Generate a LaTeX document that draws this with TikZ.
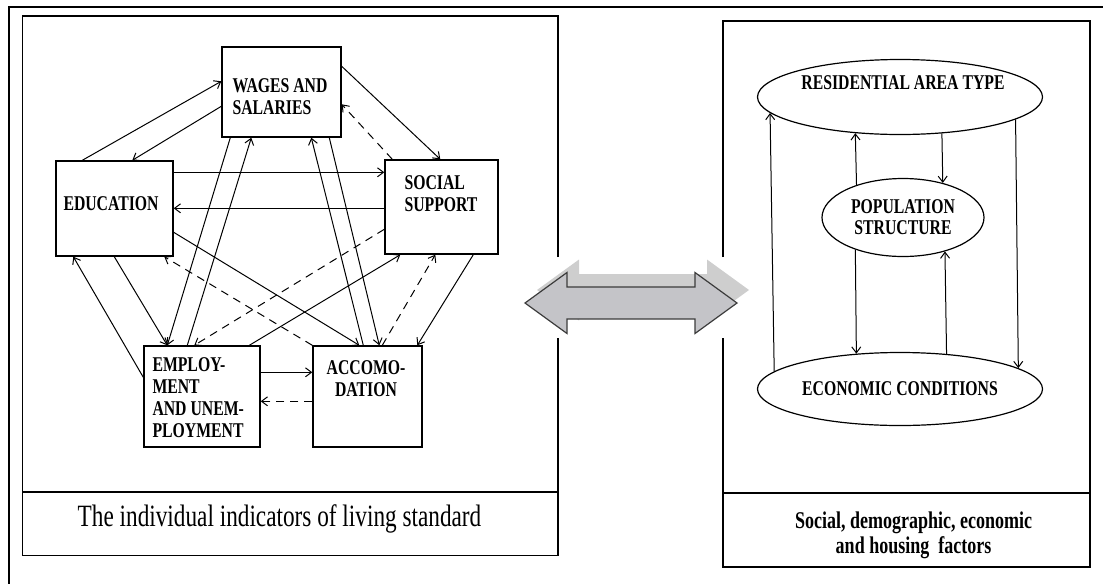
\documentclass[tikz,border=0pt]{standalone}
\usepackage{fontspec}
\setmainfont{Liberation Serif}[FakeStretch=0.75]
\usetikzlibrary{arrows.meta,calc,shapes.geometric}

\definecolor{arrowfill}{RGB}{196,196,200}
\definecolor{arrowshade}{RGB}{206,206,206}
\definecolor{arrowline}{RGB}{60,60,60}

\begin{document}
\begin{tikzpicture}[x=0.5pt,y=-0.5pt,line width=0.5pt,
    >={Straight Barb[length=3pt,width=4.5pt]},
    box/.style={draw,line width=0.7pt,inner sep=0pt},
    boxlbl/.style={inner sep=0pt,anchor=north west,align=left,
      font=\fontsize{10.5}{11}\selectfont\bfseries},
    oval/.style={draw,ellipse,inner sep=0pt,line width=0.6pt,align=center,
      font=\fontsize{10.5}{10.5}\selectfont\bfseries},
    dashline/.style={dash pattern=on 4pt off 3pt},
    panel/.style={line width=0.7pt}]
  \useasboundingbox (0,0) rectangle (1103,584);

  % outer frame
  \draw[line width=1.4pt] (1103,7) -- (9,7) -- (9,584);

  % panels
  \draw[panel] (558,257) -- (558,16) -- (22.5,16) -- (22.5,555.5) -- (558,555.5) -- (558,338);
  \draw[panel] (22.5,492) -- (558,492);
  \draw[panel] (723,257) -- (723,21) -- (1090,21) -- (1090,567) -- (723,567) -- (723,338);
  \draw[panel] (723,493) -- (1090,493);

  % left: indicator boxes
  \node[box,minimum width=59.5pt,minimum height=45pt] (W) at (281.5,92) {};
  \node[box,minimum width=58.5pt,minimum height=47.5pt] (E) at (114.5,208.5) {};
  \node[box,minimum width=56.5pt,minimum height=47pt] (S) at (441.5,207) {};
  \node[box,minimum width=58pt,minimum height=50.5pt] (M) at (202,396.5) {};
  \node[box,minimum width=54.5pt,minimum height=50.5pt] (A) at (367.5,396.5) {};

  \node[boxlbl] (Wlbl) at (232,78) {WAGES AND\\SALARIES};
  \node[boxlbl] (Elbl) at (63,196) {EDUCATION};
  \node[boxlbl] (Slbl) at (404,175) {SOCIAL\\SUPPORT};
  \node[boxlbl] (Mlbl) at (152,357) {EMPLOY-\\MENT\\AND UNEM-\\PLOYMENT};
  \node[boxlbl,anchor=north,align=center] (Albl) at (366,360) {ACCOMO-\\DATION};

  % left: links
  \draw[->] ($(E.north west)+(27,0)$) -- ($(W.north west)+(0,35)$);
  \draw[->] ($(W.north west)+(0,60)$) -- ($(E.north west)+(77,0)$);
  \draw[->] ($(W.north east)+(0,20)$) -- ($(S.north west)+(56,0)$);
  \draw[->,dashline] ($(S.north west)+(8,0)$) -- ($(W.north east)+(0,58)$);
  \draw[->] ($(E.north east)+(0,12)$) -- ($(S.north west)+(0,13)$);
  \draw[->] ($(S.north west)+(0,49)$) -- ($(E.north east)+(0,48)$);
  \draw[->] ($(E.north east)+(0,72)$) -- ($(A.north west)+(47,0)$);
  \draw[->] ($(E.south west)+(59,0)$) -- ($(M.north west)+(24,0)$);
  \draw[->] ($(M.north west)+(0,32)$) -- ($(E.south west)+(18,0)$);
  \draw[->] ($(W.south west)+(9,0)$) -- ($(M.north west)+(24,0)$);
  \draw[->] ($(M.north west)+(44,0)$) -- ($(W.south west)+(30,0)$);
  \draw[->] ($(A.north west)+(51,0)$) -- ($(W.south west)+(90,0)$);
  \draw[->] ($(W.south west)+(108,0)$) -- ($(A.north west)+(67,0)$);
  \draw[->] ($(S.south west)+(89,0)$) -- ($(A.north west)+(105,0)$);
  \draw[->,dashline] ($(A.north west)+(70,0)$) -- ($(S.south west)+(51,0)$);
  \draw[->] ($(M.north west)+(106,0)$) -- ($(S.south west)+(16,0)$);
  \draw[->,dashline] ($(S.north west)+(0,70)$) -- ($(M.north west)+(51,0)$);
  \draw[->,dashline] (A.north west) -- ($(E.south west)+(109,0)$);
  \draw[->] ($(M.north east)+(0,27)$) -- ($(A.north west)+(0,27)$);
  \draw[->,dashline] ($(A.north west)+(0,56)$) -- ($(M.north east)+(0,56)$);

  \node[font=\fontsize{15.5}{17}\selectfont,anchor=base] (Lcap) at (279.5,526)
    {The individual indicators of living standard};

  % double arrow with its shade
  \fill[arrowshade,shift={(12,-13)}] (525,303) -- (567,272.5) -- (567,287) -- (695,287)
    -- (695,272.5) -- (737,303) -- (695,333.5) -- (695,319) -- (567,319) -- (567,333.5) -- cycle;
  \filldraw[fill=arrowfill,draw=arrowline,line width=0.6pt] (525,303) -- (567,272.5) -- (567,287) -- (695,287)
    -- (695,272.5) -- (737,303) -- (695,333.5) -- (695,319) -- (567,319) -- (567,333.5) -- cycle;

  % right: factors
  \node[oval,minimum width=142.5pt,minimum height=37.5pt] (RES) at (900,97) {};
  \node[oval,draw=none] (RESlbl) at (903,83) {RESIDENTIAL AREA TYPE};
  \node[oval,minimum width=81pt,minimum height=39pt] (POP) at (903,217.5) {POPULATION\\STRUCTURE};
  \node[oval,minimum width=142.5pt,minimum height=36.5pt] (ECON) at (900,389) {ECONOMIC CONDITIONS};

  \draw[->] (ECON.172.9) -- (RES.187.3);
  \draw[->] (RES.349.1) -- (ECON.10.6);
  \draw[->] (POP.145.9) -- (RES.219);
  \draw[->] (RES.319.5) -- (POP.41.2);
  \draw[->] (POP.214.1) -- (ECON.141.7);
  \draw[->] (ECON.37.6) -- (POP.321.6);

  \node[font=\fontsize{12}{12.5}\selectfont\bfseries,align=center,anchor=north] (Rcap) at (913.5,505)
    {Social, demographic, economic\\and housing\ \ factors};
\end{tikzpicture}
\end{document}
